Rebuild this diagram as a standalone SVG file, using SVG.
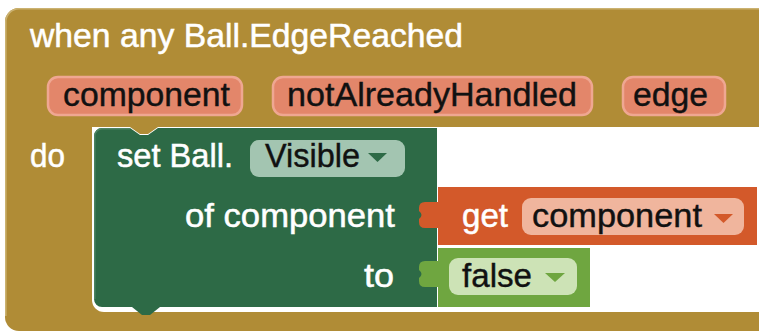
<svg xmlns="http://www.w3.org/2000/svg" width="759" height="335" viewBox="0 0 759 335">
  <style>
    .lbl { font-family: "Liberation Sans", Arial, Helvetica, sans-serif; font-size: 33px; fill: #ffffff; stroke: #ffffff; stroke-width: 0.5; }
    .fld { font-family: "Liberation Sans", Arial, Helvetica, sans-serif; font-size: 33px; fill: #111111; stroke: #111111; stroke-width: 0.4; }
    .param { fill: #e3866a; stroke: #efa792; stroke-width: 2.5; }
  </style>
  <rect width="759" height="335" fill="#ffffff"/>

  <!-- event handler: when any Ball.EdgeReached -->
  <g id="when-any-ball-edge-reached">
    <path d="M5,22 a14,14 0 0 1 14,-14 H760 V331 H19 a14,14 0 0 1 -14,-14 Z" fill="#b08c36"/>
    <path d="M5.8,316 V22 a13.2,13.2 0 0 1 13.2,-13.2 H760" fill="none" stroke="#cbb271" stroke-width="1.6"/>
    <!-- statement slot -->
    <path d="M92,127 H760 V312 H104 a12,12 0 0 1 -12,-12 Z" fill="#ffffff"/>
    <path d="M130,127 l10,7 h8 l10,-7 Z" fill="#b08c36"/>
    <text class="lbl" x="30" y="47" textLength="433" lengthAdjust="spacingAndGlyphs">when any Ball.EdgeReached</text>
    <rect class="param" x="48" y="77" width="194" height="38" rx="10"/>
    <text class="fld" x="63" y="106" textLength="167" lengthAdjust="spacingAndGlyphs">component</text>
    <rect class="param" x="273" y="77" width="319" height="38" rx="10"/>
    <text class="fld" x="287" y="106" textLength="290" lengthAdjust="spacingAndGlyphs">notAlreadyHandled</text>
    <rect class="param" x="623" y="77" width="102" height="38" rx="10"/>
    <text class="fld" x="633" y="106" textLength="75" lengthAdjust="spacingAndGlyphs">edge</text>
    <text class="lbl" x="30" y="167" textLength="35" lengthAdjust="spacingAndGlyphs">do</text>
  </g>

  <!-- set Ball.Visible of component to -->
  <g id="set-ball-visible">
    <path d="M94,136 a8,8 0 0 1 8,-8 H130 l10,7 h8 l10,-7 H437 V307 H160 l-10,8 h-8 l-10,-8 H102 a8,8 0 0 1 -8,-8 Z" fill="#2d6a46"/>
    <path d="M94.8,299 V136 a7.2,7.2 0 0 1 7.2,-7.2 H130" fill="none" stroke="#4f8464" stroke-width="1.4"/>
    <text class="lbl" x="117" y="167" textLength="116" lengthAdjust="spacingAndGlyphs">set Ball.</text>
    <rect x="250" y="140" width="155" height="37" rx="9" fill="#a3c5b1"/>
    <text class="fld" x="265" y="167" textLength="95" lengthAdjust="spacingAndGlyphs">Visible</text>
    <path d="M368,153 h19 l-9.5,9 Z" fill="#2d6a46"/>
    <text class="lbl" x="185" y="227" textLength="210" lengthAdjust="spacingAndGlyphs">of component</text>
    <text class="lbl" x="364" y="287" textLength="30" lengthAdjust="spacingAndGlyphs">to</text>
  </g>

  <!-- get component -->
  <g id="get-component">
    <path d="M438,187 V202 H425 Q419,202 419,208 V211 Q424,215 419,219 V222 Q419,228 425,228 H438 V245 H757 V187 Z" fill="#d3592a"/>
    <text class="lbl" x="462" y="227" textLength="46" lengthAdjust="spacingAndGlyphs">get</text>
    <rect x="522" y="198" width="222" height="37" rx="9" fill="#f0b59d"/>
    <text class="fld" x="532" y="227" textLength="170" lengthAdjust="spacingAndGlyphs">component</text>
    <path d="M714,214 h19 l-9.5,9 Z" fill="#d3592a"/>
  </g>

  <!-- false -->
  <g id="false-value">
    <path d="M438,248 V261 H425 Q419,261 419,267 V270 Q424,274 419,278 V281 Q419,287 425,287 H438 V307 H590 V248 Z" fill="#6fa640"/>
    <rect x="449" y="258" width="128" height="37" rx="9" fill="#cde3b6"/>
    <text class="fld" x="462" y="287" textLength="70" lengthAdjust="spacingAndGlyphs">false</text>
    <path d="M545,273 h20 l-10,9 Z" fill="#6fa640"/>
  </g>

  <g id="connectors"/>
</svg>
